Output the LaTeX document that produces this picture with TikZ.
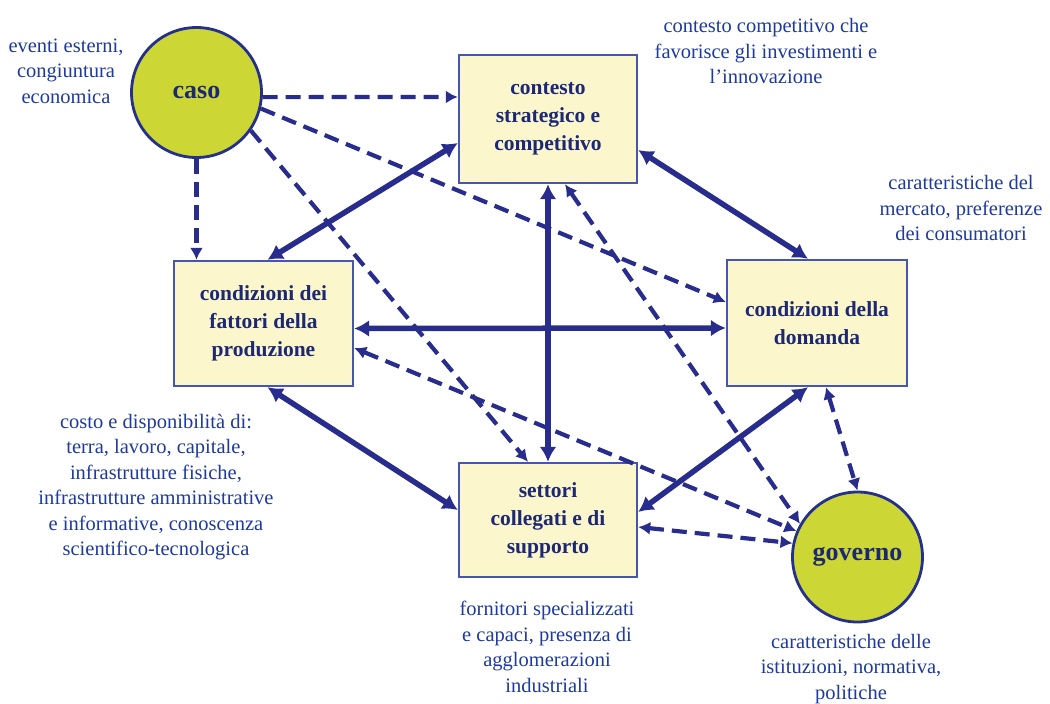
\documentclass[tikz,border=0pt]{standalone}
\usepackage{fontspec}
\setmainfont{Liberation Serif}
\usetikzlibrary{arrows.meta,calc}
\definecolor{arrowblue}{RGB}{40,44,140}
\definecolor{boxfill}{RGB}{251,246,204}
\definecolor{boxline}{RGB}{70,86,176}
\definecolor{boxtext}{RGB}{28,40,116}
\definecolor{notetext}{RGB}{30,58,156}
\definecolor{circfill}{RGB}{204,214,52}
\definecolor{circline}{RGB}{36,48,140}
\begin{document}
\begin{tikzpicture}[x=1pt,y=-1pt,
  box/.style={draw=boxline, line width=2.4pt, fill=boxfill, minimum width=178pt,
    inner sep=2pt, align=center, text=boxtext, font=\fontsize{21.5}{28}\selectfont\bfseries},
  circ/.style={circle, draw=circline, line width=2.8pt, fill=circfill, minimum size=130pt,
    inner sep=0pt, font=\fontsize{26}{30}\selectfont\bfseries, text=boxtext},
  note/.style={align=center, text=notetext, font=\fontsize{20.5}{25.5}\selectfont, inner sep=0pt},
  solidarrow/.style={draw=arrowblue, line width=5.5pt,
    {Latex[length=15pt,width=17pt]}-{Latex[length=15pt,width=17pt]}},
  dasharrow/.style={draw=arrowblue, line width=4.2pt, dash pattern=on 15pt off 8pt,
    -{Latex[length=12pt,width=13pt]}},
  dashboth/.style={draw=arrowblue, line width=4.2pt, dash pattern=on 15pt off 8pt,
    {Latex[length=12pt,width=13pt]}-{Latex[length=12pt,width=13pt]}}
]
\useasboundingbox (0,0) rectangle (1050,704);

% boxes
\node[box, minimum height=128pt] (con) at (548,119) {contesto\\strategico e\\competitivo};
\node[box, minimum width=179pt, minimum height=125pt] (fat) at (263.5,323.5) {condizioni dei\\fattori della\\produzione};
\node[box, minimum width=180pt, minimum height=126pt] (dom) at (817,323) {condizioni della\\domanda};
\node[box, minimum height=114pt] (set) at (548,520) {settori\\collegati e di\\supporto};

% circles
\node[circ] (caso) at (196.5,92.5) {caso};
\node[circ] (gov) at (857.5,557) {governo};

% notes
\node[note] (n1) at (66,71) {eventi esterni,\\congiuntura\\economica};
\node[note] (n2) at (766,51) {contesto competitivo che\\favorisce gli investimenti e\\l’innovazione};
\node[note] (n3) at (961,208) {caratteristiche del\\mercato, preferenze\\dei consumatori};
\node[note] (n4) at (156,487) {costo e disponibilità di:\\terra, lavoro, capitale,\\infrastrutture fisiche,\\infrastrutture amministrative\\e informative, conoscenza\\scientifico-tecnologica};
\node[note] (n5) at (547,647) {fornitori specializzati\\e capaci, presenza di\\agglomerazioni\\industriali};
\node[note] (n6) at (851,669) {caratteristiche delle\\istituzioni, normativa,\\politiche};

% solid double arrows
\draw[solidarrow] ([xshift=4pt]fat.north) -- ([yshift=-24pt]con.west);
\draw[solidarrow] ([yshift=-31pt]con.east) -- ([xshift=-9pt]dom.north);
\draw[solidarrow] ([yshift=-5pt]fat.east) -- ([yshift=-5pt]dom.west);
\draw[solidarrow] (con.south) -- (set.north);
\draw[solidarrow] ([xshift=4pt]fat.south) -- ([yshift=10pt]set.west);
\draw[solidarrow] ([yshift=8pt]set.east) -- ([xshift=-9pt]dom.south);

% dashed arrows from caso
\draw[dasharrow] (caso.-4) -- ([yshift=22pt]con.west);
\draw[dasharrow] (caso.south) -- (fat.north -| caso.south);
\draw[dasharrow] (caso.-14) -- ([yshift=21pt]dom.west);
\draw[dasharrow] (caso.-35) -- ([xshift=-20pt]set.north);

% dashed arrows with governo
\draw[dashboth] ([xshift=17pt]con.south) -- (gov.150);
\draw[dashboth] ([yshift=-24.5pt]fat.east) -- (gov.157);
\draw[dashboth] ([yshift=-7pt]set.east) -- (gov.168);
\draw[dashboth] ([xshift=9pt]dom.south) -- (gov.north);
\end{tikzpicture}
\end{document}
